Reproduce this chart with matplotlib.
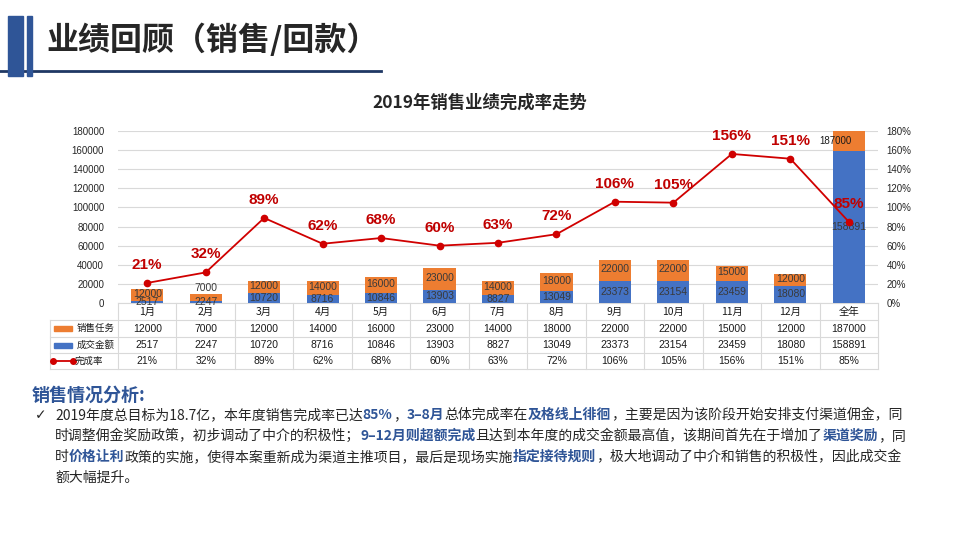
import matplotlib
matplotlib.use('Agg')
import matplotlib.pyplot as plt
import numpy as np
from matplotlib.patches import Rectangle

plt.rcParams['font.family'] = ['Noto Sans CJK SC', 'DejaVu Sans']

# ---------------- data ----------------
months = ['1月', '2月', '3月', '4月', '5月', '6月', '7月', '8月', '9月', '10月', '11月', '12月', '全年']
target = [12000, 7000, 12000, 14000, 16000, 23000, 14000, 18000, 22000, 22000, 15000, 12000, 187000]
deal = [2517, 2247, 10720, 8716, 10846, 13903, 8827, 13049, 23373, 23154, 23459, 18080, 158891]
rate = [0.21, 0.32, 0.89, 0.62, 0.68, 0.60, 0.63, 0.72, 1.06, 1.05, 1.56, 1.51, 0.85]
series_names = ['销售任务', '成交金额', '完成率']
left_ticks = [0, 20000, 40000, 60000, 80000, 100000, 120000, 140000, 160000, 180000]
right_ticks = [0, 0.2, 0.4, 0.6, 0.8, 1.0, 1.2, 1.4, 1.6, 1.8]

page_title = '业绩回顾（销售/回款）'
chart_title = '2019年销售业绩完成率走势'
section_title = '销售情况分析:'
para_lines = [
    [('2019年度总目标为18.7亿，本年度销售完成率已达', False), ('85%', True), ('，', False),
     ('3–8月', True), ('总体完成率在', False), ('及格线上徘徊', True),
     ('，主要是因为该阶段开始安排支付渠道佣金，同', False)],
    [('时调整佣金奖励政策，初步调动了中介的积极性；', False), ('9–12月则超额完成', True),
     ('且达到本年度的成交金额最高值，该期间首先在于增加了', False), ('渠道奖励', True), ('，同', False)],
    [('时', False), ('价格让利', True), ('政策的实施，使得本案重新成为渠道主推项目，最后是现场实施', False),
     ('指定接待规则', True), ('，极大地调动了中介和销售的积极性，因此成交金', False)],
    [('额大幅提升。', False)],
]

# ---------------- style ----------------
ORANGE = '#ED7D31'
BLUE = '#4472C4'
RED = '#D00000'
RED_LBL = '#C00000'
NAVY = '#2F5597'
DARK = '#262626'
GRID = '#D9D9D9'
NUMFONT = ['Liberation Sans', 'Noto Sans CJK SC', 'DejaVu Sans']

W, H = 960, 540
fig = plt.figure(figsize=(9.6, 5.4), dpi=100)
ov = fig.add_axes([0, 0, 1, 1])
ov.set_xlim(0, W)
ov.set_ylim(H, 0)
ov.axis('off')

# header decoration
ov.plot([0, 381], [71, 71], color='#1F3864', lw=2, zorder=1)
ov.add_patch(Rectangle((8, 16), 15, 60, color=NAVY, zorder=2))
ov.add_patch(Rectangle((27, 16), 5, 60, color=NAVY, zorder=2))
ov.text(46, 40, page_title, fontsize=23, fontweight='black', color=DARK, va='center', ha='left')

ov.text(480, 103, chart_title, fontsize=12.5, fontweight='black', color=DARK, va='center', ha='center')

# ---------------- chart ----------------
L, R, T, B = 118, 878, 131, 303
ax = fig.add_axes([L / W, 1 - B / H, (R - L) / W, (B - T) / H])
ax.patch.set_alpha(0)
x = np.arange(len(months))
bw = 0.55
ymax = left_ticks[-1]
ax.bar(x, deal, bw, color=BLUE, zorder=2)
ax.bar(x, target, bw, bottom=deal, color=ORANGE, zorder=2)
ax.set_xlim(-0.5, len(months) - 0.5)
ax.set_ylim(0, ymax)
ax.set_yticks(left_ticks)
ax.set_yticklabels([str(v) for v in left_ticks], fontsize=7, color=DARK, family=NUMFONT)
ax.set_xticks([])
ax.grid(axis='y', color=GRID, lw=0.8)
ax.set_axisbelow(True)
for s in ax.spines.values():
    s.set_visible(False)
ax.tick_params(axis='y', length=0, pad=10)

for i in range(len(months)):
    ax.text(i, deal[i] / 2, str(deal[i]), ha='center', va='center', fontsize=7.5,
            color='#3A3A3A', family=NUMFONT, zorder=3)
    top = deal[i] + target[i]
    if top > ymax:
        ax.text(i + 0.05, (deal[i] + ymax) / 2, str(target[i]), ha='right', va='center',
                fontsize=7, color='#1A1A1A', family=NUMFONT, zorder=3)
    elif target[i] < 8000:
        ax.text(i, top + 1500, str(target[i]), ha='center', va='bottom', fontsize=7.5,
                color='#3A3A3A', family=NUMFONT, zorder=3)
    else:
        ax.text(i, deal[i] + target[i] / 2 + 1000, str(target[i]), ha='center', va='center',
                fontsize=7.5, color='#3A3A3A', family=NUMFONT, zorder=3)

ax2 = ax.twinx()
ax2.set_ylim(0, right_ticks[-1])
ax2.set_yticks(right_ticks)
ax2.set_yticklabels([f'{round(v * 100)}%' for v in right_ticks], fontsize=7, color=DARK, family=NUMFONT)
ax2.tick_params(axis='y', length=0, pad=6)
for s in ax2.spines.values():
    s.set_visible(False)
ax2.plot(x, rate, color=RED, lw=1.3, marker='o', ms=4.5, zorder=4)
for i, r in enumerate(rate):
    ax2.annotate(f'{round(r * 100)}%', (i, r), xytext=(0, 8), textcoords='offset points',
                 ha='center', va='bottom', color=RED_LBL, fontsize=11, fontweight='bold',
                 family=NUMFONT, zorder=5)

# ---------------- data table ----------------
colw = (R - L) / len(months)
rows_y = [303, 320, 337, 353, 369]
TL = 50
for j, yy in enumerate(rows_y):
    x0 = L if j == 0 else TL
    ov.plot([x0, R], [yy, yy], color=GRID, lw=0.8, zorder=1)
for i in range(len(months) + 1):
    xx = L + i * colw
    ov.plot([xx, xx], [rows_y[0], rows_y[-1]], color=GRID, lw=0.8, zorder=1)
ov.plot([TL, TL], [rows_y[1], rows_y[-1]], color=GRID, lw=0.8, zorder=1)

tfs = 7.5
for i, m in enumerate(months):
    cx = L + (i + 0.5) * colw
    ov.text(cx, (rows_y[0] + rows_y[1]) / 2, m, ha='center', va='center', fontsize=tfs, color='#1A1A1A')
    ov.text(cx, (rows_y[1] + rows_y[2]) / 2, str(target[i]), ha='center', va='center', fontsize=tfs,
            color='#1A1A1A', family=NUMFONT)
    ov.text(cx, (rows_y[2] + rows_y[3]) / 2, str(deal[i]), ha='center', va='center', fontsize=tfs,
            color='#1A1A1A', family=NUMFONT)
    ov.text(cx, (rows_y[3] + rows_y[4]) / 2, f'{round(rate[i] * 100)}%', ha='center', va='center',
            fontsize=tfs, color='#1A1A1A', family=NUMFONT)

# legend keys in table
y1 = (rows_y[1] + rows_y[2]) / 2
y2 = (rows_y[2] + rows_y[3]) / 2
y3 = (rows_y[3] + rows_y[4]) / 2
lfs = 6.8
ov.add_patch(Rectangle((54, y1 - 2.5), 18, 5, color=ORANGE))
ov.add_patch(Rectangle((54, y2 - 2.5), 18, 5, color=BLUE))
ov.plot([53, 73], [y3, y3], color=RED, lw=1.3, marker='o', ms=4)
ov.text(77, y1, series_names[0], ha='left', va='center', fontsize=lfs, color='#1A1A1A')
ov.text(77, y2, series_names[1], ha='left', va='center', fontsize=lfs, color='#1A1A1A')
ov.text(75, y3, series_names[2], ha='left', va='center', fontsize=lfs, color='#1A1A1A')

# ---------------- analysis text ----------------
ov.text(32, 395, section_title, fontsize=13, fontweight='bold', color=NAVY, ha='left', va='center')
ov.text(35, 415, '✓', fontsize=10, color=DARK, ha='left', va='center',
        family=['DejaVu Sans', 'Noto Sans CJK SC'])

renderer = fig.canvas.get_renderer()
line_y = [415, 436, 457, 478]
for yy, segs in zip(line_y, para_lines):
    xx = 55
    for txt, bold in segs:
        t = ov.text(xx, yy, txt, fontsize=10, fontweight='bold' if bold else 'normal',
                    color=NAVY if bold else DARK, ha='left', va='center')
        bb = t.get_window_extent(renderer)
        xx += bb.width

fig.savefig('out.png', dpi=100)
